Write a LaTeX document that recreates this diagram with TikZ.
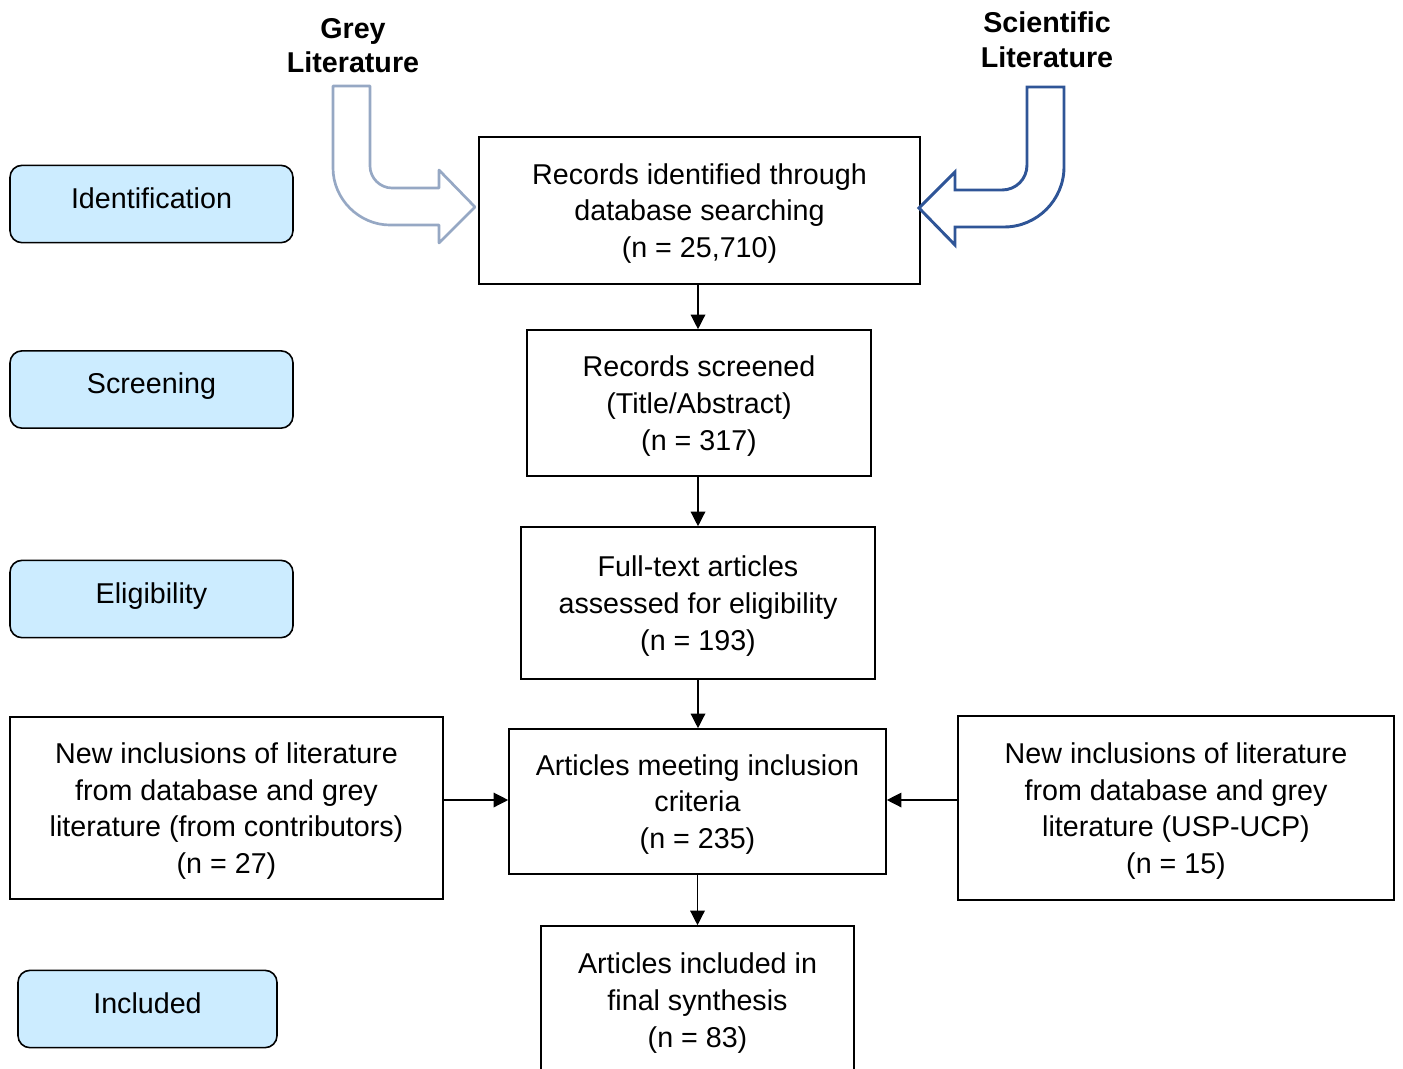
\documentclass[tikz,border=0pt]{standalone}
\usepackage{fontspec}
\setmainfont{Liberation Sans}
\usetikzlibrary{arrows.meta}
\definecolor{phaseblue}{HTML}{CCECFF}
\definecolor{greyarrow}{RGB}{150,168,196}
\definecolor{sciblue}{RGB}{47,85,151}
\begin{document}
\begin{tikzpicture}[x=0.75pt,y=-0.75pt]
      \tikzstyle{every node}=[font=\fontsize{21.5}{27.5}\selectfont, align=center, inner sep=0pt]
      \tikzstyle{flowbox}=[draw, line width=1.2pt, rectangle, text depth=0pt]
      \tikzstyle{phasebox}=[draw, line width=1.2pt, rounded corners=9pt, fill=phaseblue, text depth=9pt]
      \tikzstyle{flowarrow}=[line width=1pt, -{Triangle[length=11pt,width=11pt]}]
      \useasboundingbox (0,0) rectangle (1403,1068);

      % phases on the left
      \foreach \i/\x/\y/\w/\t in {1/151.5/204/212.25pt/Identification, 2/151.5/389.5/212.25pt/Screening, 3/151.5/599/212.25pt/Eligibility, 4/147.5/1009/194.25pt/Included}
      {
        \path (\x,\y) node[phasebox, minimum width=\w, minimum height=58pt] (p\i) {\t};
      }

      % main flow
      \path (699.5,210.5) node[flowbox, minimum width=330.75pt, minimum height=110.25pt] (rec) {Records identified through\\database searching\\(n = 25,710)};
      \path (699,403) node[flowbox, minimum width=258pt, minimum height=109.5pt] (scr) {Records screened\\(Title/Abstract)\\(n = 317)};
      \path (698,603) node[flowbox, minimum width=265.5pt, minimum height=114pt] (full) {Full-text articles\\assessed for eligibility\\(n = 193)};
      \path (697.5,801.5) node[flowbox, minimum width=282.75pt, minimum height=108.75pt] (meet) {Articles meeting inclusion\\criteria\\(n = 235)};
      \path (697.5,1000) node[flowbox, minimum width=234.75pt, minimum height=111pt] (final) {Articles included in\\final synthesis\\(n = 83)};

      \path (226.5,808) node[flowbox, minimum width=324.75pt, minimum height=136.5pt] (contrib) {New inclusions of literature\\from database and grey\\literature (from contributors)\\(n = 27)};
      \path (1176,808) node[flowbox, minimum width=327pt, minimum height=138pt] (uspucp) {New inclusions of literature\\from database and grey\\literature (USP-UCP)\\(n = 15)};

      \draw [flowarrow] (rec.south -| full) -- (scr.north -| full);
      \draw [flowarrow] (scr.south -| full) -- (full.north);
      \draw [flowarrow] (full.south) -- (full.south |- meet.north);
      \draw [flowarrow] (meet.south) -- (meet.south |- final.north);
      \draw [flowarrow] (contrib.east |- 0,800) -- (meet.west |- 0,800);
      \draw [flowarrow] (uspucp.west |- 0,800) -- (meet.east |- 0,800);

      % sources
      \path (353,45.5) node[font=\fontsize{21.5}{26}\selectfont\bfseries] (grey) {Grey\\Literature};
      \path (1047,40) node[font=\fontsize{21.5}{26}\selectfont\bfseries] (sci) {Scientific\\Literature};

      \draw [greyarrow, line width=2pt, line join=round]
        (333,86) -- (370,86) -- (370,166) .. controls (370,178) and (380,188) .. (392,188)
        -- (439,188) -- (439,170) -- (475,207) -- (439,243) -- (439,225) -- (390,225)
        .. controls (359,225) and (333,199) .. (333,168) -- cycle;
      \draw [sciblue, line width=2.2pt, line join=miter]
        (1027,87) -- (1064,87) -- (1064,167) .. controls (1064,200) and (1037,227) .. (1004,227)
        -- (955,227) -- (955,245) -- (919,208) -- (955,172) -- (955,190) -- (1002,190)
        .. controls (1016,190) and (1027,179) .. (1027,165) -- cycle;
    \end{tikzpicture}
\end{document}
